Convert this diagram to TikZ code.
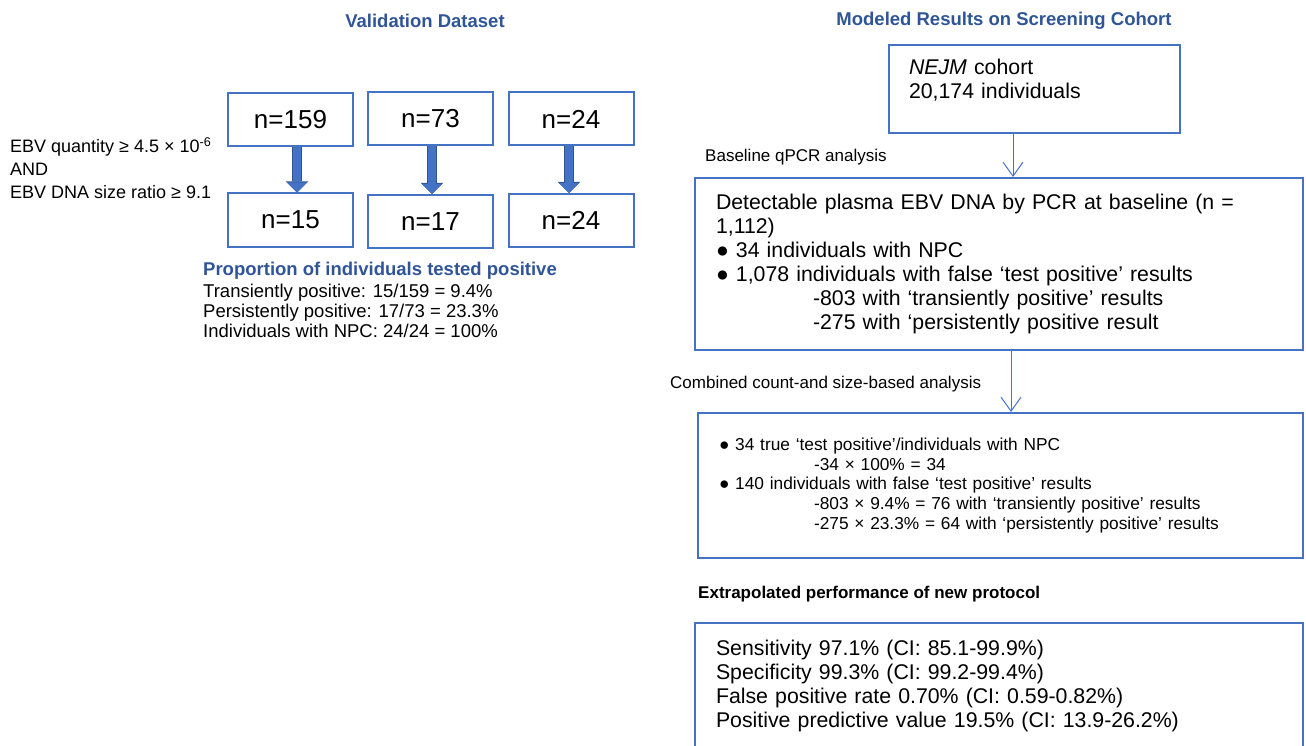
\documentclass[tikz,border=0pt]{standalone}
\usepackage{fontspec}
\setmainfont{Liberation Sans}
\usepackage{tikz}
\usetikzlibrary{arrows.meta}
\definecolor{boxblue}{HTML}{4472C4}
\definecolor{titleblue}{HTML}{2F5597}
\definecolor{arrowedge}{HTML}{2F528F}
\newcommand{\bulletmark}{●}

\begin{document}
\begin{tikzpicture}[x=1pt,y=-1pt,
  box/.style={draw=boxblue,line width=2pt},
  nbox/.style={box,minimum width=125pt,minimum height=53pt,font=\fontsize{26}{30}\selectfont},
  wide/.style={box,anchor=north west,align=left,inner xsep=21pt},
  head/.style={font=\bfseries\fontsize{18.5}{22}\selectfont,text=titleblue},
  lbl/.style={anchor=west,inner sep=0pt,font=\fontsize{17}{20}\selectfont},
  fat/.style={line width=8pt,draw=boxblue,-{Triangle[length=10pt,width=20pt,line width=0pt]},
    preaction={draw=arrowedge,line width=9.6pt,-{Triangle[length=11pt,width=22.5pt,line width=0pt]}}},
  flow/.style={draw=boxblue,line width=1pt,-{Straight Barb[length=14pt,width=20pt]}}]
  \useasboundingbox (0,0) rectangle (1306,746);
  \node[head] (valtitle) at (425,21) {Validation Dataset};
  \node[head] (modtitle) at (1004,21) {Modeled Results on Screening Cohort};
  \node[nbox] (t1) at (290.5,119.5) {n=159};
  \node[nbox] (t2) at (430.5,119) {n=73};
  \node[nbox] (t3) at (571,119) {n=24};
  \node[nbox] (b1) at (290.5,220) {n=15};
  \node[nbox] (b2) at (430.5,221.5) {n=17};
  \node[nbox] (b3) at (571,220.5) {n=24};
  \node[anchor=west,align=left,inner sep=0pt,font=\fontsize{18}{23}\selectfont] (cond) at (10,168)
    {EBV quantity ≥ 4.5 × 10\textsuperscript{-6}\\AND\\EBV DNA size ratio ≥ 9.1};
  \node[anchor=north west,align=left,inner sep=0pt,font=\fontsize{18.5}{20}\selectfont] (prop) at (203,262)
    {{\bfseries\color{titleblue}Proportion of individuals tested positive}\\[2pt]
     Transiently positive: 15/159 = 9.4\%\\
     Persistently positive: 17/73 = 23.3\%\\
     Individuals with NPC: 24/24 = 100\%};
  \draw[fat] ([xshift=6.5pt]t1.south) -- ([xshift=6.5pt]b1.north);
  \draw[fat] ([xshift=1.5pt]t2.south) -- ([xshift=1.5pt]b2.north);
  \draw[fat] ([xshift=-2pt]t3.south) -- ([xshift=-2pt]b3.north);
  \node[wide,minimum width=291pt,minimum height=88pt,inner xsep=20pt,text width=251pt,
    font=\fontsize{21.3}{24}\selectfont] (cohort) at (888,44)
    {\textit{NEJM} cohort\\20,174 individuals\\[-3pt]\mbox{}};
  \node[lbl] (baselbl) at (705,157) {Baseline qPCR analysis};
  \node[wide,minimum width=608pt,minimum height=172pt,text width=566pt,
    font=\fontsize{21.3}{24}\selectfont] (detect) at (694,177)
    {Detectable plasma EBV DNA by PCR at baseline (n =\\
     1,112)\\
     \bulletmark\ 34 individuals with NPC\\
     \bulletmark\ 1,078 individuals with false ‘test positive’ results\\
     \hspace*{97pt}-803 with ‘transiently positive’ results\\
     \hspace*{97pt}-275 with ‘persistently positive result};
  \node[lbl] (comblbl) at (670,384) {Combined count-and size-based analysis};
  \node[wide,minimum width=605pt,minimum height=145pt,text width=563pt,
    font=\fontsize{17.3}{19.7}\selectfont] (combined) at (697,412)
    {\bulletmark\ 34 true ‘test positive’/individuals with NPC\\
     \hspace*{95pt}-34 × 100\% = 34\\
     \bulletmark\ 140 individuals with false ‘test positive’ results\\
     \hspace*{95pt}-803 × 9.4\% = 76 with ‘transiently positive’ results\\
     \hspace*{95pt}-275 × 23.3\% = 64 with ‘persistently positive’ results};
  \node[lbl,font=\bfseries\fontsize{17}{20}\selectfont] (extralbl) at (698,594) {Extrapolated performance of new protocol};
  \node[wide,minimum width=608pt,minimum height=126pt,text width=566pt,
    font=\fontsize{21.3}{24}\selectfont] (perf) at (694,622)
    {Sensitivity 97.1\% (CI: 85.1-99.9\%)\\
     Specificity 99.3\% (CI: 99.2-99.4\%)\\
     False positive rate 0.70\% (CI: 0.59-0.82\%)\\
     Positive predictive value 19.5\% (CI: 13.9-26.2\%)};
  \draw[flow] ([xshift=-21.5pt]cohort.south) -- ([xshift=14pt]detect.north);
  \draw[flow] ([xshift=12pt]detect.south) -- ([xshift=10.5pt]combined.north);
\end{tikzpicture}
\end{document}
